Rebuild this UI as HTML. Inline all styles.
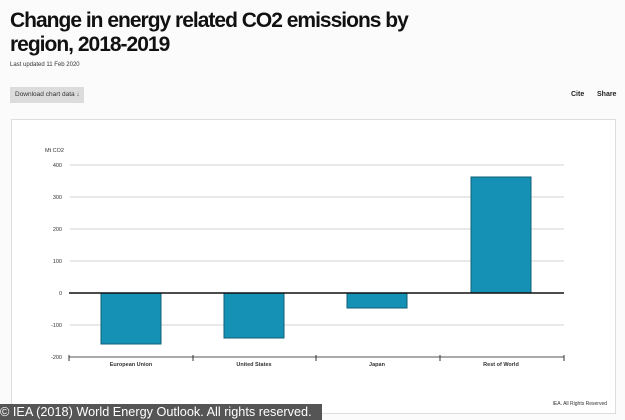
<!DOCTYPE html>
<html><head><meta charset="utf-8"><style>
body{margin:0;width:625px;height:420px;background:#fbfbfb;position:relative;overflow:hidden;font-family:"Liberation Sans",sans-serif}
.t{position:absolute;left:10px;top:9px;font-size:21px;font-weight:bold;line-height:24px;color:#111;letter-spacing:-1px}
.d{position:absolute;left:10px;top:62px;font-size:6px;color:#333}
.b{position:absolute;left:10px;top:87px;width:74px;height:16px;background:#dcdcdc;font-size:6.5px;line-height:16px;text-indent:5px;color:#333}
.r{position:absolute;top:91px;font-size:7px;font-weight:bold;color:#222}
.card{position:absolute;left:11px;top:119px;width:603px;height:293px;background:#fff;border:1px solid #ddd}
.wm{position:absolute;left:0;top:404px;width:322px;height:16px;background:#555;color:#fff;font-size:12.7px;line-height:16px;white-space:nowrap}
</style></head><body>
<div class="t">Change in energy related CO2 emissions by<br>region, 2018-2019</div>
<div class="d">Last updated 11 Feb 2020</div>
<div class="b">Download chart data ↓</div>
<div class="r" style="left:571px">Cite</div>
<div class="r" style="left:597px">Share</div>
<div class="card"></div>
<svg style="position:absolute;left:0;top:0" width="625" height="420" font-family="Liberation Sans" font-size="5.5" fill="#333">
<text x="45" y="152">Mt CO2</text>
<g stroke="#e2e2e2" stroke-width="1.5">
<line x1="70" x2="564" y1="165" y2="165"/><line x1="70" x2="564" y1="197" y2="197"/><line x1="70" x2="564" y1="229" y2="229"/><line x1="70" x2="564" y1="261" y2="261"/><line x1="70" x2="564" y1="325" y2="325"/></g>
<g text-anchor="end"><text x="62" y="167">400</text><text x="62" y="199">300</text><text x="62" y="231">200</text><text x="62" y="263">100</text><text x="62" y="295">0</text><text x="62" y="327">-100</text><text x="62" y="359">-200</text></g>
<g fill="#1591b5" stroke="#0e5f73" stroke-width="1">
<rect x="101" y="293" width="60" height="51"/><rect x="224" y="293" width="60" height="45"/><rect x="347" y="293" width="60" height="15"/><rect x="471" y="177" width="60" height="116"/></g>
<line x1="69" x2="564" y1="293" y2="293" stroke="#111" stroke-width="1.5"/>
<line x1="69" x2="564" y1="357" y2="357" stroke="#555" stroke-width="1"/>
<g stroke="#333"><line x1="69" x2="69" y1="355" y2="361"/><line x1="193" x2="193" y1="355" y2="361"/><line x1="316" x2="316" y1="355" y2="361"/><line x1="440" x2="440" y1="355" y2="361"/><line x1="564" x2="564" y1="355" y2="361"/></g>
<g text-anchor="middle" font-weight="bold"><text x="131" y="366">European Union</text><text x="254" y="366">United States</text><text x="377" y="366">Japan</text><text x="501" y="366">Rest of World</text></g>
<text x="607" y="405" text-anchor="end" font-size="5">IEA. All Rights Reserved</text>
</svg>
<div class="wm">© IEA (2018) World Energy Outlook. All rights reserved.</div>
</body></html>
